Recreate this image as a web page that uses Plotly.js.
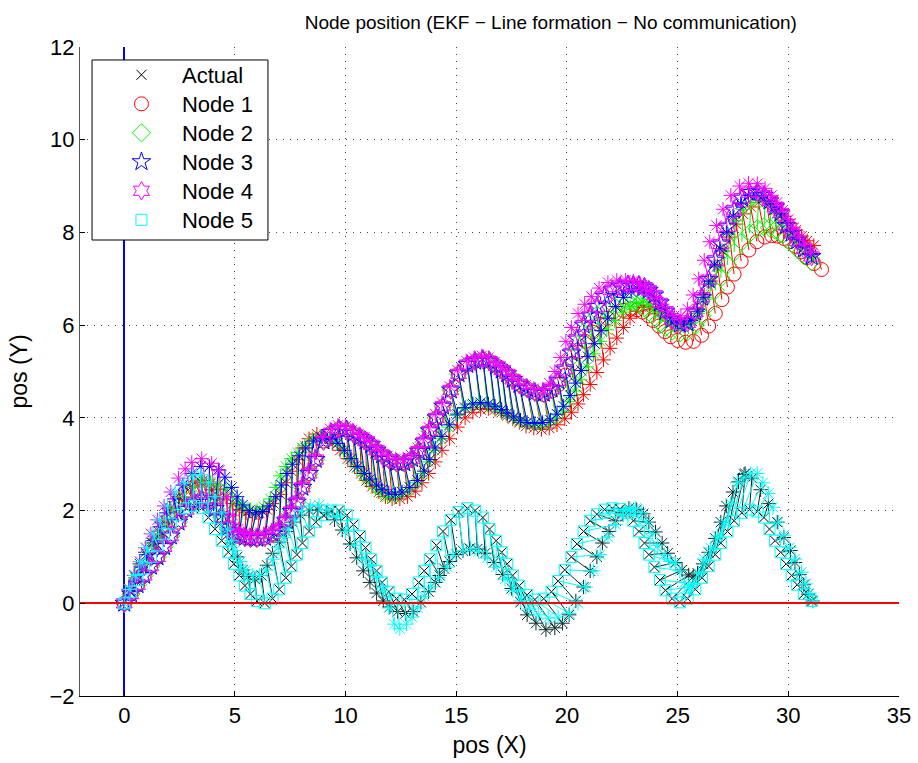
<!DOCTYPE html>
<html><head><meta charset="utf-8">
<script src="https://cdn.plot.ly/plotly-3.0.1.min.js"></script>
<style>html,body{margin:0;padding:0;background:#fff}#chart{width:918px;height:763px}</style>
</head><body><div id="chart"></div>
<script>
// ---- tick labels ----
const xTicks = [0, 5, 10, 15, 20, 25, 30, 35];
const yTicks = [-2, 0, 2, 4, 6, 8, 10, 12];
const seriesNames = ['Actual', 'Node 1', 'Node 2', 'Node 3', 'Node 4', 'Node 5'];

// ---- formation x positions per time step (shared) ----
const formX = [0,0.3,0.6,0.9,1.2,1.5,1.8,2.1,2.45,2.8,
3.15,3.5,3.8,4.1,4.4,4.7,4.95,5.2,5.45,5.7,
6.0,6.35,6.7,7.0,7.3,7.55,7.8,8.05,8.35,8.65,
9.0,9.35,9.7,10.05,10.35,10.65,10.9,11.15,11.4,11.65,
11.95,12.3,12.65,13.0,13.3,13.55,13.8,14.1,14.4,14.75,
15.1,15.5,15.85,16.2,16.5,16.8,17.05,17.3,17.55,17.85,
18.2,18.55,18.95,19.3,19.6,19.9,20.2,20.45,20.75,21.05,
21.35,21.7,22.05,22.4,22.75,23.0,23.25,23.5,23.7,23.95,
24.2,24.45,24.75,25.1,25.45,25.8,26.1,26.4,26.7,26.95,
27.25,27.55,27.9,28.25,28.6,28.9,29.15,29.4,29.65,29.9,
30.15,30.4,30.7,31.05];

// lower path (Node 5 actual, also "Actual")
const node5Y = [0,0.25,0.5,0.75,1.0,1.25,1.5,1.72,1.9,2.05,
2.1,2.05,1.85,1.6,1.35,1.1,0.85,0.6,0.38,0.2,
0.05,0.0,0.1,0.3,0.55,0.8,1.05,1.3,1.55,1.75,
1.9,2.0,2.0,1.9,1.7,1.45,1.2,0.95,0.7,0.45,
0.25,0.1,0.08,0.2,0.45,0.7,0.95,1.25,1.55,1.8,
1.97,2.05,2.0,1.85,1.6,1.35,1.1,0.85,0.6,0.38,
0.18,0.08,0.1,0.25,0.48,0.72,1.0,1.28,1.55,1.78,
1.92,2.02,2.05,2.03,1.95,1.78,1.55,1.3,1.05,0.78,
0.5,0.28,0.1,0.02,0.1,0.3,0.55,0.8,1.05,1.3,
1.55,1.78,1.95,2.02,1.98,1.85,1.6,1.35,1.1,0.85,
0.6,0.4,0.2,0.05];

// upper path (Nodes 3 and 4 actual)
const formY = [0,0.2,0.4,0.6,0.8,1.0,1.22,1.45,1.75,2.02,
2.18,2.25,2.18,2.04,1.86,1.64,1.52,1.47,1.42,1.4,
1.4,1.42,1.5,1.6,1.78,1.98,2.18,2.5,2.8,3.1,
3.5,3.68,3.76,3.74,3.66,3.58,3.5,3.42,3.3,3.2,
3.1,3.03,3.03,3.12,3.28,3.48,3.72,4.0,4.25,4.6,
4.95,5.15,5.22,5.26,5.22,5.12,5.03,4.95,4.83,4.72,
4.63,4.55,4.53,4.62,4.8,5.05,5.4,5.7,6.0,6.2,
6.4,6.62,6.76,6.83,6.87,6.87,6.86,6.82,6.75,6.65,
6.48,6.3,6.12,6.02,6.05,6.28,6.6,6.98,7.4,7.75,
8.12,8.48,8.74,8.86,8.88,8.8,8.68,8.55,8.42,8.15,
7.98,7.82,7.64,7.48];

const node2Y = [0,0.2,0.4,0.6,0.8,1.0,1.22,1.45,1.75,2.02,
2.18,2.25,2.18,2.04,1.86,1.64,1.52,1.47,1.42,1.4,
1.4,1.42,1.5,1.6,1.78,1.98,2.18,2.5,2.8,3.1,
3.5,3.68,3.76,3.74,3.66,3.58,3.5,3.42,3.3,3.2,
3.1,3.03,3.03,3.12,3.28,3.48,3.72,4.0,4.25,4.6,
4.95,5.15,5.22,5.26,5.22,5.12,5.03,4.95,4.83,4.72,
4.63,4.55,4.53,4.62,4.78,5.0,5.3,5.58,5.85,6.05,
6.22,6.35,6.45,6.5,6.52,6.5,6.45,6.38,6.28,6.17,
6.05,5.95,5.87,5.83,5.86,6.0,6.2,6.45,6.75,7.02,
7.3,7.57,7.8,7.98,8.08,8.12,8.1,8.05,7.98,7.88,
7.76,7.64,7.5,7.37];

const node1X = [0,0.3,0.6,0.9,1.2,1.5,1.8,2.1,2.45,2.8,
3.15,3.5,3.8,4.1,4.4,4.7,4.95,5.2,5.45,5.7,
6.0,6.35,6.7,7.0,7.3,7.55,7.8,8.05,8.35,8.65,
9.0,9.35,9.7,10.05,10.35,10.65,10.9,11.15,11.4,11.65,
11.95,12.3,12.65,13.0,13.3,13.55,13.8,14.1,14.4,14.75,
15.1,15.5,15.85,16.2,16.5,16.8,17.05,17.3,17.55,17.85,
18.2,18.55,18.95,19.32,19.63,19.94,20.25,20.52,20.83,21.14,
21.45,21.82,22.18,22.54,22.9,23.16,23.42,23.68,23.9,24.16,
24.42,24.68,25.0,25.36,25.72,26.08,26.4,26.7,27.0,27.25,
27.55,27.87,28.22,28.58,28.94,29.25,29.52,29.8,30.06,30.32,
30.58,30.84,31.16,31.5];
const node1Y = [0,0.2,0.4,0.6,0.8,1.0,1.22,1.45,1.75,2.02,
2.18,2.25,2.18,2.04,1.86,1.64,1.52,1.47,1.42,1.4,
1.4,1.42,1.5,1.6,1.78,1.98,2.18,2.5,2.8,3.1,
3.5,3.68,3.76,3.74,3.66,3.58,3.5,3.42,3.3,3.2,
3.1,3.03,3.03,3.12,3.28,3.48,3.72,4.0,4.25,4.6,
4.95,5.15,5.22,5.26,5.22,5.12,5.03,4.95,4.83,4.72,
4.63,4.55,4.5,4.58,4.72,4.92,5.18,5.42,5.65,5.85,
6.02,6.15,6.25,6.32,6.35,6.33,6.28,6.2,6.1,5.98,
5.86,5.75,5.67,5.63,5.65,5.78,5.98,6.25,6.55,6.82,
7.1,7.38,7.62,7.8,7.9,7.93,7.92,7.87,7.8,7.7,
7.58,7.46,7.33,7.2];

// ---- estimates (asterisks) ----
const actualEstX = [0,0.2,0.45,0.7,0.95,1.25,1.5,1.7,2.05,2.5,
3.0,3.5,3.95,4.2,4.45,4.62,4.85,5.1,5.35,5.6,
5.9,6.2,6.45,6.7,7.0,7.3,7.6,7.95,8.35,8.75,
9.15,9.5,9.85,10.2,10.5,10.8,11.1,11.4,11.7,12.0,
12.35,12.7,13.05,13.4,13.75,14.05,14.25,14.45,14.7,15.0,
15.3,15.6,15.95,16.3,16.7,17.1,17.5,17.9,18.2,18.6,
19.05,19.45,19.8,20.1,20.4,20.75,21.05,21.35,21.6,21.9,
22.2,22.5,22.8,23.15,23.45,23.7,24.0,24.3,24.55,24.9,
25.2,25.5,25.7,25.9,26.15,26.4,26.7,26.95,27.2,27.5,
27.75,28.0,28.05,28.35,28.75,29.1,29.5,29.8,30.1,30.3,
30.5,30.7,30.9,31.1];
const actualEstY = [0,0.3,0.6,0.85,1.1,1.3,1.45,1.75,2.05,2.3,
2.5,2.6,2.45,2.25,1.9,1.6,1.3,1.0,0.72,0.58,
0.52,0.6,0.82,1.08,1.32,1.55,1.75,1.9,2.0,2.02,
1.95,1.8,1.58,1.28,0.98,0.7,0.45,0.22,0.05,-0.08,
-0.18,-0.22,-0.18,0.02,0.25,0.45,0.6,0.75,0.9,1.05,
1.13,1.18,1.17,1.08,0.88,0.62,0.32,0.02,-0.25,-0.43,
-0.57,-0.53,-0.43,-0.25,0.05,0.35,0.7,1.0,1.3,1.55,
1.78,1.95,2.05,2.02,1.93,1.75,1.54,1.3,1.08,0.88,
0.72,0.61,0.57,0.65,0.85,1.1,1.4,1.75,2.1,2.4,
2.62,2.78,2.8,2.7,2.45,2.15,1.75,1.42,1.14,0.88,
0.62,0.4,0.2,0.05];

const node1EstX = [0,0.25,0.5,0.75,1.0,1.3,1.55,1.8,2.1,2.45,
2.8,3.2,3.55,3.9,4.25,4.6,4.9,5.2,5.5,5.8,
6.1,6.45,6.75,7.05,7.3,7.55,7.8,8.05,8.35,8.7,
9.05,9.4,9.75,10.1,10.4,10.7,10.95,11.2,11.5,11.8,
12.1,12.45,12.8,13.15,13.45,13.75,14.05,14.35,14.7,15.05,
15.4,15.75,16.1,16.45,16.75,17.05,17.3,17.55,17.85,18.15,
18.5,18.85,19.2,19.55,19.9,20.2,20.5,20.75,21.05,21.35,
21.65,21.95,22.25,22.55,22.85,23.15,23.45,23.75,24.0,24.25,
24.5,24.75,25.0,25.3,25.6,25.9,26.2,26.5,26.8,27.05,
27.35,27.65,27.95,28.3,28.65,29.0,29.3,29.6,29.85,30.1,
30.35,30.6,30.85,31.15];
const node1EstY = [0,0.3,0.55,0.8,1.05,1.3,1.55,1.8,2.05,2.3,
2.5,2.62,2.65,2.58,2.45,2.3,2.15,2.02,1.95,1.92,
1.95,2.02,2.15,2.35,2.6,2.85,3.1,3.35,3.55,3.65,
3.6,3.45,3.3,3.12,2.95,2.8,2.65,2.52,2.4,2.3,
2.25,2.25,2.3,2.42,2.6,2.8,3.05,3.3,3.55,3.8,
4.0,4.12,4.18,4.2,4.18,4.12,4.05,3.98,3.9,3.82,
3.78,3.75,3.78,3.85,3.98,4.12,4.3,4.5,4.72,4.98,
5.25,5.5,5.72,5.95,6.15,6.3,6.38,6.4,6.38,6.3,
6.2,6.1,6.05,6.05,6.15,6.35,6.65,6.95,7.28,7.6,
7.9,8.18,8.4,8.55,8.65,8.68,8.62,8.5,8.35,8.2,
8.05,7.92,7.82,7.72];

const node2EstX = [0,0.25,0.5,0.75,1.05,1.35,1.65,1.95,2.3,2.7,
3.1,3.5,3.9,4.25,4.6,4.9,5.15,5.4,5.7,6.0,
6.3,6.6,6.85,7.05,7.3,7.55,7.85,8.15,8.5,8.85,
9.25,9.6,9.9,10.2,10.5,10.8,11.05,11.35,11.6,11.9,
12.2,12.5,12.85,13.2,13.5,13.75,14.0,14.3,14.65,15.0,
15.35,15.7,16.05,16.4,16.7,17.0,17.25,17.55,17.85,18.15,
18.5,18.85,19.2,19.5,19.8,20.1,20.35,20.6,20.9,21.2,
21.5,21.8,22.15,22.5,22.85,23.15,23.4,23.65,23.9,24.15,
24.4,24.65,24.95,25.25,25.6,25.9,26.2,26.5,26.75,27.0,
27.3,27.6,27.95,28.3,28.65,28.95,29.25,29.5,29.75,30.0,
30.25,30.5,30.8,31.1];
const node2EstY = [0,0.3,0.55,0.8,1.05,1.3,1.55,1.8,2.05,2.3,
2.5,2.62,2.62,2.55,2.48,2.3,2.18,2.08,2.02,2.0,
2.08,2.25,2.5,2.75,2.95,3.12,3.25,3.4,3.55,3.6,
3.55,3.45,3.3,3.1,2.92,2.75,2.62,2.48,2.38,2.3,
2.28,2.35,2.45,2.6,2.8,3.05,3.3,3.55,3.8,4.05,
4.2,4.28,4.3,4.28,4.22,4.15,4.08,4.0,3.93,3.88,
3.85,3.85,3.9,4.0,4.15,4.35,4.58,4.82,5.1,5.38,
5.65,5.9,6.1,6.28,6.4,6.48,6.5,6.45,6.38,6.28,
6.18,6.08,6.0,5.98,6.05,6.25,6.55,6.9,7.25,7.6,
7.95,8.25,8.5,8.65,8.7,8.65,8.55,8.4,8.25,8.05,
7.9,7.75,7.6,7.45];

const node3EstX = [0,0.25,0.5,0.75,1.0,1.3,1.6,1.9,2.25,2.65,
3.05,3.45,3.85,4.25,4.55,4.85,5.1,5.35,5.65,5.95,
6.25,6.55,6.85,7.1,7.35,7.6,7.9,8.2,8.55,8.9,
9.3,9.65,9.95,10.25,10.55,10.85,11.1,11.4,11.65,11.95,
12.25,12.55,12.9,13.25,13.55,13.8,14.05,14.35,14.7,15.05,
15.4,15.75,16.1,16.45,16.75,17.05,17.3,17.6,17.9,18.2,
18.55,18.9,19.25,19.55,19.85,20.15,20.4,20.65,20.95,21.25,
21.55,21.85,22.2,22.55,22.9,23.2,23.45,23.7,23.95,24.2,
24.45,24.7,25.0,25.3,25.6,25.9,26.15,26.4,26.65,26.9,
27.2,27.5,27.85,28.2,28.55,28.9,29.2,29.45,29.7,29.95,
30.2,30.45,30.75,31.05];
const node3EstY = [0,0.25,0.5,0.78,1.05,1.35,1.65,1.95,2.25,2.55,
2.8,2.95,2.95,2.88,2.72,2.5,2.3,2.12,2.0,1.95,
1.98,2.1,2.3,2.55,2.8,3.0,3.18,3.35,3.5,3.58,
3.55,3.45,3.3,3.12,2.95,2.8,2.68,2.55,2.45,2.38,
2.35,2.4,2.5,2.65,2.85,3.1,3.35,3.6,3.85,4.08,
4.22,4.3,4.33,4.3,4.25,4.18,4.1,4.02,3.95,3.9,
3.88,3.9,3.95,4.08,4.25,4.48,4.75,5.02,5.32,5.6,
5.88,6.15,6.4,6.6,6.72,6.78,6.78,6.72,6.6,6.45,
6.3,6.15,6.05,6.02,6.1,6.3,6.6,6.95,7.3,7.65,
8.0,8.35,8.62,8.8,8.85,8.8,8.68,8.55,8.4,8.2,
8.02,7.85,7.68,7.52];

const node4EstX = [0,0.2,0.45,0.7,0.95,1.2,1.5,1.8,2.1,2.45,
2.75,3.05,3.5,3.95,4.3,4.65,4.9,5.15,5.4,5.65,
5.95,6.3,6.65,6.95,7.25,7.5,7.75,8.0,8.3,8.6,
8.95,9.3,9.65,10.0,10.3,10.6,10.85,11.1,11.35,11.6,
11.9,12.25,12.6,12.95,13.25,13.5,13.75,14.05,14.35,14.7,
15.05,15.45,15.8,16.15,16.45,16.75,17.0,17.25,17.5,17.8,
18.15,18.5,18.9,19.2,19.45,19.7,19.95,20.2,20.5,20.8,
21.1,21.45,21.85,22.25,22.65,23.0,23.3,23.55,23.8,24.05,
24.3,24.55,24.85,25.15,25.45,25.7,25.95,26.2,26.45,26.75,
27.05,27.4,27.8,28.2,28.6,28.95,29.25,29.5,29.75,30.0,
30.25,30.5,30.75,31.0];
const node4EstY = [0,0.3,0.6,0.9,1.2,1.5,1.8,2.1,2.4,2.7,
2.9,3.04,3.12,3.02,2.87,2.3,1.9,1.6,1.5,1.48,
1.48,1.5,1.58,1.68,1.86,2.06,2.26,2.58,2.88,3.18,
3.58,3.76,3.84,3.82,3.74,3.66,3.58,3.5,3.38,3.28,
3.18,3.11,3.11,3.2,3.36,3.56,3.8,4.08,4.33,4.68,
5.03,5.23,5.3,5.34,5.3,5.2,5.11,5.03,4.91,4.8,
4.71,4.63,4.61,4.75,5.0,5.3,5.65,5.95,6.25,6.45,
6.62,6.8,6.92,6.97,6.97,6.95,6.9,6.82,6.72,6.6,
6.45,6.3,6.2,6.2,6.35,6.65,7.0,7.4,7.8,8.15,
8.5,8.8,9.0,9.06,9.05,8.95,8.8,8.65,8.48,8.28,
8.1,7.92,7.75,7.58];

const node5EstX = [0,0.25,0.5,0.75,1.0,1.3,1.6,1.95,2.3,2.7,
3.1,3.45,3.8,4.1,4.4,4.65,4.85,5.0,5.25,5.5,
5.8,6.1,6.4,6.7,6.95,7.2,7.4,7.7,8.0,8.4,
8.8,9.2,9.6,10.0,10.4,10.75,11.1,11.4,11.7,11.95,
12.2,12.45,12.75,13.0,13.25,13.55,13.85,14.2,14.6,14.85,
15.3,15.65,16.0,16.4,16.8,17.2,17.55,17.9,18.3,18.7,
19.15,19.6,20.1,20.5,20.85,21.2,21.5,21.85,22.2,22.55,
22.85,23.1,23.35,23.6,23.85,24.1,24.4,24.65,24.9,25.1,
25.3,25.5,25.7,25.95,26.2,26.5,26.8,27.1,27.4,27.7,
28.0,28.3,28.6,28.85,29.1,29.3,29.55,29.8,30.05,30.3,
30.6,30.8,30.95,31.1];
const node5EstY = [0,0.3,0.6,0.9,1.2,1.5,1.8,2.1,2.4,2.6,
2.75,2.78,2.6,2.3,1.95,1.6,1.35,1.14,0.9,0.72,
0.6,0.6,0.72,0.95,1.2,1.42,1.6,1.82,2.0,2.1,
2.12,2.02,1.85,1.55,1.25,0.95,0.8,0.55,0.28,-0.1,
-0.45,-0.55,-0.45,-0.3,-0.1,0.15,0.35,0.55,0.78,1.03,
1.14,1.18,1.12,0.98,0.78,0.52,0.28,0.05,-0.12,-0.25,
-0.32,-0.3,-0.22,0.0,0.35,0.7,1.05,1.43,1.7,1.9,
2.02,2.05,1.95,1.75,1.5,1.25,1.05,0.9,0.86,0.7,
0.45,0.35,0.4,0.65,0.95,1.19,1.45,1.75,2.15,2.6,
2.72,2.8,2.8,2.6,2.37,2.07,1.75,1.47,1.2,0.95,
0.67,0.42,0.22,0.05];

// ---- build traces ----
const groups = [
  {name: seriesNames[0], color: '#000000', estColor: '#0c2b2b', ax: formX, ay: node5Y, ex: actualEstX, ey: actualEstY, symbol: 'x-thin-open', size: 10},
  {name: seriesNames[1], color: '#ff0000', estColor: '#ff0000', ax: node1X, ay: node1Y, ex: node1EstX, ey: node1EstY, symbol: 'circle-open', size: 14},
  {name: seriesNames[2], color: '#00ff00', estColor: '#00ff00', ax: formX, ay: node2Y, ex: node2EstX, ey: node2EstY, symbol: 'diamond-open', size: 14},
  {name: seriesNames[3], color: '#0000ff', estColor: '#0000ff', ax: formX, ay: formY, ex: node3EstX, ey: node3EstY, symbol: 'star-open', size: 14},
  {name: seriesNames[4], color: '#ff00ff', estColor: '#ff00ff', ax: formX, ay: formY, ex: node4EstX, ey: node4EstY, symbol: 'hexagram-open', size: 14},
  {name: seriesNames[5], color: '#00ffff', estColor: '#00ffff', ax: formX, ay: node5Y, ex: node5EstX, ey: node5EstY, symbol: 'square-open', size: 11}
];

const legendIds = ['legend', 'legend2', 'legend3', 'legend4', 'legend5', 'legend6'];
const traces = [];
groups.forEach((g, k) => {
  const lx = [], ly = [];
  for (let i = 0; i < g.ax.length; i++) {
    lx.push(g.ax[i], g.ex[i], null);
    ly.push(g.ay[i], g.ey[i], null);
  }
  traces.push({type: 'scatter', mode: 'lines', x: lx, y: ly, showlegend: false, hoverinfo: 'skip',
    line: {color: g.estColor, width: 1}});
  traces.push({type: 'scatter', mode: 'markers', x: g.ax, y: g.ay, name: g.name, showlegend: true,
    legend: legendIds[k],
    marker: {symbol: g.symbol, size: g.size, color: g.color, line: {color: g.color, width: 1}}});
  traces.push({type: 'scatter', mode: 'markers', x: g.ex, y: g.ey, showlegend: false,
    marker: {symbol: 'asterisk-open', size: 12, color: g.estColor, line: {color: g.estColor, width: 1}}});
});

const axisCommon = {
  ticks: 'inside', ticklen: 5, tickcolor: '#000', tickwidth: 1,
  showline: true, linecolor: '#000', linewidth: 1, mirror: false,
  showgrid: true, gridcolor: '#444', gridwidth: 1, griddash: '1px,6px',
  zeroline: true, zerolinewidth: 2,
  tickfont: {size: 22, color: '#000'}
};

// one legend box per row so the row pitch matches the reference
const rowTops = [0.9892, 0.9445, 0.8998, 0.8552, 0.8105, 0.7658];
const legendStyle = {x: 0.0256, xanchor: 'left', yanchor: 'top', bgcolor: 'rgba(0,0,0,0)', borderwidth: 0,
  font: {size: 22, color: '#000'}, itemwidth: 71, tracegroupgap: 0};

const layout = {
  width: 918, height: 763,
  margin: {l: 80, r: 19, t: 47, b: 67},
  paper_bgcolor: '#ffffff', plot_bgcolor: '#ffffff',
  font: {family: '"Liberation Sans", Arial, Helvetica, sans-serif', size: 20, color: '#000'},
  title: {text: 'Node position (EKF − Line formation − No communication)', font: {size: 19, color: '#000'},
    x: 0.6, xanchor: 'center', y: 0.971, yanchor: 'middle', yref: 'container'},
  xaxis: Object.assign({}, axisCommon, {range: [-2, 35], tickvals: xTicks, zerolinecolor: '#0000ff',
    title: {text: 'pos (X)', font: {size: 23}, standoff: 9}}),
  yaxis: Object.assign({}, axisCommon, {range: [-2, 12], tickvals: yTicks, zerolinecolor: '#ff0000',
    zerolinelayer: 'above traces', linecolor: '#555',
    title: {text: 'pos (Y)', font: {size: 23}, standoff: 15}}),
  showlegend: true,
  shapes: [{type: 'rect', xref: 'paper', yref: 'paper', x0: 0.0147, x1: 0.2295, y0: 0.7026, y1: 0.98,
    line: {color: '#000', width: 1}, fillcolor: '#ffffff', layer: 'above'}]
};
legendIds.forEach((id, k) => { layout[id] = Object.assign({}, legendStyle, {y: rowTops[k]}); });

Plotly.newPlot('chart', traces, layout, {displayModeBar: false, staticPlot: true});
</script>
</body></html>
